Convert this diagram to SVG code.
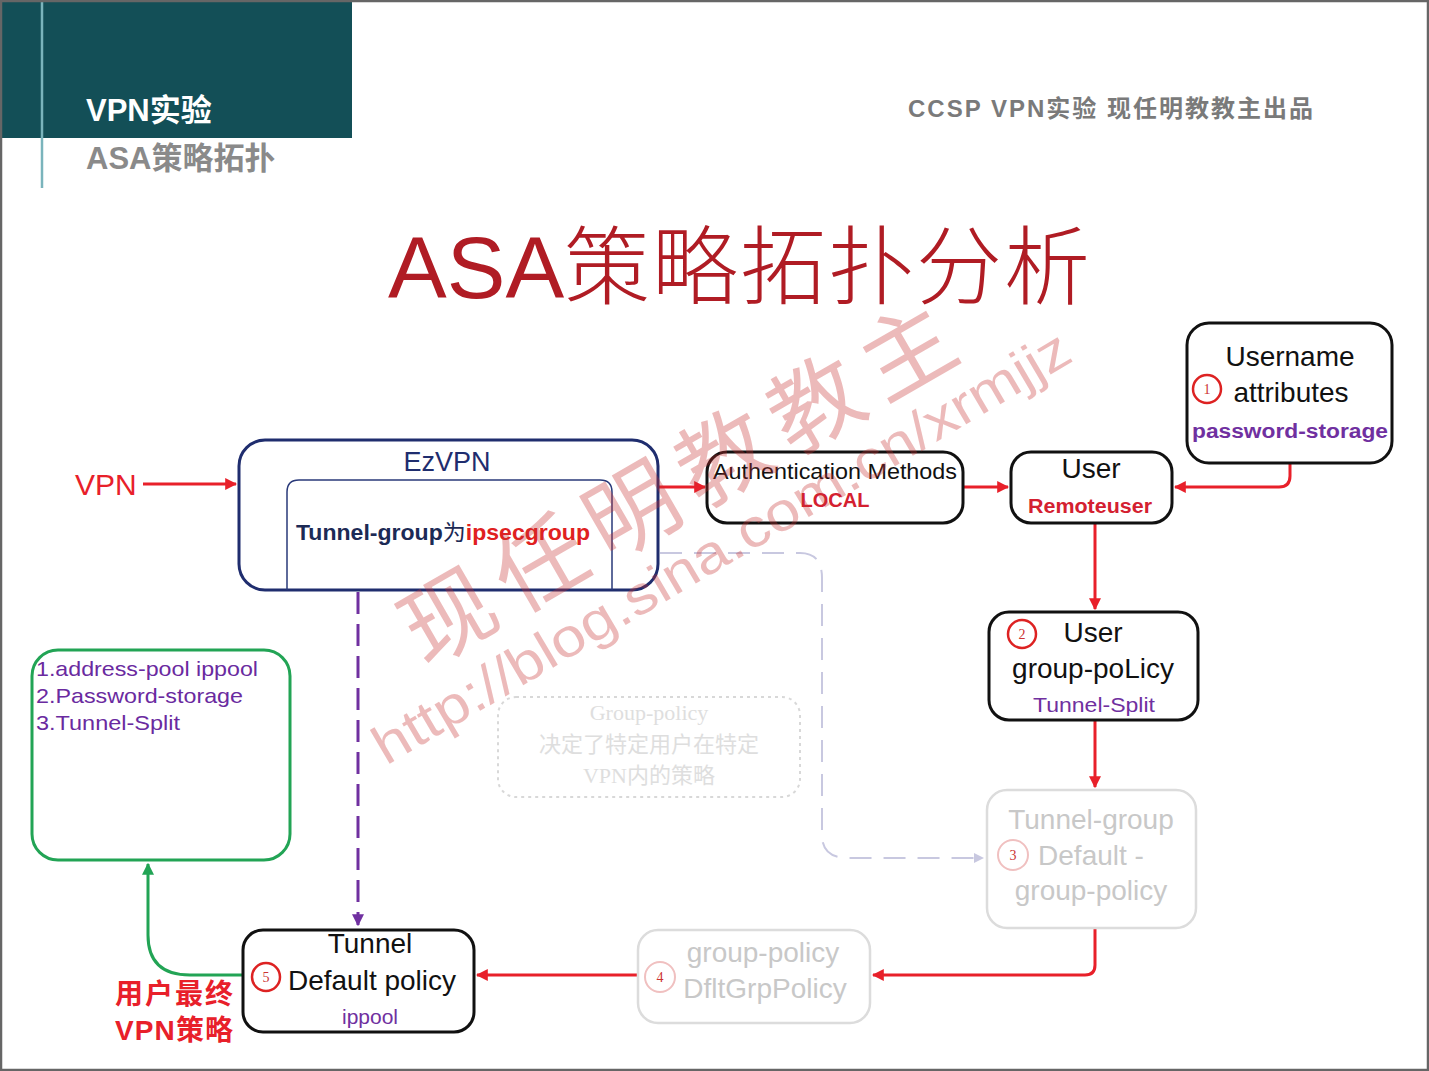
<svg xmlns="http://www.w3.org/2000/svg" width="1429" height="1071" viewBox="0 0 1429 1071">
<defs>
<style>
.sans{font-family:"Liberation Sans","Noto Sans CJK SC",Arial,sans-serif}
.node{fill:#fff;stroke:#111;stroke-width:3}
.faint{fill:#fff;stroke:#dcdcdc;stroke-width:2.5}
.red{stroke:#e8202a;stroke-width:3;fill:none}
.lbl{font-size:28px;fill:#111;text-anchor:middle}
.sub{font-size:20px;text-anchor:middle;font-weight:bold}
.subn{font-size:21px;text-anchor:middle;font-weight:normal;fill:#7030a0}
.num{fill:#fff;stroke:#d22;stroke-width:2.5}
.numf{fill:#fff;stroke:#f0c0c0;stroke-width:2}
.numt{font-size:14px;fill:#c33;text-anchor:middle;font-family:"Liberation Serif",serif}
.gt{font-size:28px;fill:#c8c8c8;text-anchor:middle}
.wm{fill:#c83030;opacity:0.33}
</style>
<marker id="ar" viewBox="0 0 10 10" refX="9" refY="5" markerWidth="4" markerHeight="4" orient="auto"><path d="M0,0 L10,5 L0,10 z" fill="#e8202a"/></marker>
<marker id="ap" viewBox="0 0 10 10" refX="9" refY="5" markerWidth="4" markerHeight="4" orient="auto"><path d="M0,0 L10,5 L0,10 z" fill="#7030a0"/></marker>
<marker id="ag" viewBox="0 0 10 10" refX="9" refY="5" markerWidth="4" markerHeight="4" orient="auto"><path d="M0,0 L10,5 L0,10 z" fill="#22a455"/></marker>
<marker id="al" viewBox="0 0 10 10" refX="9" refY="5" markerWidth="5" markerHeight="5" orient="auto"><path d="M0,0 L10,5 L0,10 z" fill="#c8c8e0"/></marker>
</defs>
<rect x="0" y="0" width="1429" height="1071" fill="#fff"/>
<!-- header -->
<g id="header" class="sans">
<rect x="0" y="0" width="352" height="138" fill="#134f57"/>
<line x1="42" y1="0" x2="42" y2="188" stroke="#7ab4bc" stroke-width="2.5"/>
<text x="86" y="121" font-size="31" font-weight="bold" fill="#fff">VPN实验</text>
<text x="86" y="169" font-size="31" font-weight="bold" fill="#8a8a8a">ASA策略拓扑</text>
<text x="908" y="117" font-size="24" font-weight="bold" fill="#7a7a7a" textLength="405" lengthAdjust="spacing">CCSP VPN实验  现任明教教主出品</text>
<text x="388" y="298" font-size="88" fill="#b01c24">ASA<tspan font-weight="300" font-family="'Noto Sans CJK SC',sans-serif" font-size="86" letter-spacing="2">策略拓扑分析</tspan></text>
</g>
<!-- group-policy note -->
<g id="note">
<rect x="498" y="697" width="302" height="100" rx="18" fill="none" stroke="#d8d8d8" stroke-width="2" stroke-dasharray="3,4"/>
<g font-family="'Liberation Serif','Noto Sans CJK SC',serif" font-size="22" fill="#dedede" text-anchor="middle">
<text x="649" y="720">Group-policy</text>
<text x="649" y="752">决定了特定用户在特定</text>
<text x="649" y="783">VPN内的策略</text>
</g>
</g>
<!-- connectors -->
<g id="connectors">
<line class="red" x1="143" y1="484" x2="236" y2="484" marker-end="url(#ar)"/>
<line class="red" x1="659" y1="487" x2="705" y2="487" marker-end="url(#ar)"/>
<line class="red" x1="964" y1="487" x2="1008" y2="487" marker-end="url(#ar)"/>
<path class="red" d="M1290,464 V476 Q1290,487 1279,487 H1175" marker-end="url(#ar)"/>
<line class="red" x1="1095" y1="524" x2="1095" y2="609" marker-end="url(#ar)"/>
<line class="red" x1="1095" y1="721" x2="1095" y2="787" marker-end="url(#ar)"/>
<path class="red" d="M1095,929 V965 Q1095,975 1085,975 H873" marker-end="url(#ar)"/>
<line class="red" x1="637" y1="975" x2="477" y2="975" marker-end="url(#ar)"/>
<line x1="358" y1="592" x2="358" y2="925" stroke="#7030a0" stroke-width="3" stroke-dasharray="22,10" marker-end="url(#ap)"/>
<path d="M243,975 H190 Q148,975 148,935 V864" fill="none" stroke="#22a455" stroke-width="3" marker-end="url(#ag)"/>
<path d="M660,553 H800 Q822,553 822,578 V835 Q822,858 848,858 H983" fill="none" stroke="#c8c8e0" stroke-width="2" stroke-dasharray="22,12" marker-end="url(#al)"/>
</g>
<!-- VPN label -->
<g id="vpn" class="sans"><text x="75" y="495" font-size="30" fill="#e8202a">VPN</text></g>
<!-- EzVPN -->
<g id="ezvpn" class="sans">
<rect x="239" y="440" width="419" height="150" rx="26" fill="#fff" stroke="#1f2d6e" stroke-width="3"/>
<path d="M287,590 V492 Q287,480 299,480 H600 Q612,480 612,492 V590" fill="none" stroke="#2a3a7a" stroke-width="1.5"/>
<text x="447" y="471" font-size="27" fill="#1f2d6e" text-anchor="middle">EzVPN</text>
<text x="296" y="540" font-size="22" font-weight="bold" fill="#1c2a55" textLength="294" lengthAdjust="spacingAndGlyphs">Tunnel-group<tspan font-weight="normal">为</tspan><tspan fill="#e02020">ipsecgroup</tspan></text>
</g>
<!-- Auth -->
<g id="auth" class="sans">
<rect class="node" x="707" y="452" width="256" height="71" rx="20"/>
<text x="835" y="479" font-size="22" fill="#111" text-anchor="middle" textLength="244" lengthAdjust="spacingAndGlyphs">Authentication Methods</text>
<text x="835" y="507" class="sub" fill="#d42030">LOCAL</text>
</g>
<!-- User -->
<g id="user" class="sans">
<rect class="node" x="1011" y="452" width="161" height="71" rx="20"/>
<text x="1091" y="478" class="lbl">User</text>
<text x="1090" y="513" class="sub" fill="#d42030" textLength="124" lengthAdjust="spacingAndGlyphs">Remoteuser</text>
</g>
<!-- Username attributes -->
<g id="username" class="sans">
<rect class="node" x="1187" y="323" width="205" height="140" rx="22"/>
<text x="1290" y="366" class="lbl" font-size="27">Username</text>
<circle class="num" cx="1207" cy="389" r="14"/>
<text x="1207" y="394" class="numt">1</text>
<text x="1291" y="402" class="lbl" font-size="27">attributes</text>
<text x="1290" y="438" class="sub" fill="#7030a0" textLength="196" lengthAdjust="spacingAndGlyphs">password-storage</text>
</g>
<!-- User group-policy -->
<g id="usergp" class="sans">
<rect class="node" x="989" y="612" width="209" height="108" rx="20"/>
<circle class="num" cx="1022" cy="634" r="14"/>
<text x="1022" y="639" class="numt">2</text>
<text x="1093" y="642" class="lbl">User</text>
<text x="1093" y="678" class="lbl">group-poLicy</text>
<text x="1094" y="712" class="subn" textLength="122" lengthAdjust="spacingAndGlyphs">Tunnel-Split</text>
</g>
<!-- Tunnel-group default -->
<g id="tgdefault" class="sans">
<rect class="faint" x="987" y="790" width="209" height="138" rx="20"/>
<text x="1091" y="829" class="gt">Tunnel-group</text>
<circle class="numf" cx="1013" cy="855" r="15"/>
<text x="1013" y="860" class="numt" fill="#e8c0c0">3</text>
<text x="1091" y="865" class="gt">Default -</text>
<text x="1091" y="900" class="gt">group-policy</text>
</g>
<!-- DfltGrpPolicy -->
<g id="dflt" class="sans">
<rect class="faint" x="638" y="930" width="232" height="93" rx="20"/>
<text x="763" y="962" class="gt">group-policy</text>
<circle class="numf" cx="660" cy="977" r="15"/>
<text x="660" y="982" class="numt" fill="#e8c0c0">4</text>
<text x="765" y="998" class="gt">DfltGrpPolicy</text>
</g>
<!-- Tunnel Default policy -->
<g id="tunneldefault" class="sans">
<rect class="node" x="243" y="930" width="231" height="102" rx="20"/>
<text x="370" y="953" class="lbl">Tunnel</text>
<circle class="num" cx="266" cy="977" r="14"/>
<text x="266" y="982" class="numt">5</text>
<text x="372" y="990" class="lbl">Default policy</text>
<text x="370" y="1024" class="subn">ippool</text>
</g>
<!-- green box -->
<g id="attrs" class="sans">
<rect x="32" y="650" width="258" height="210" rx="26" fill="none" stroke="#22a455" stroke-width="3"/>
<g font-size="21" fill="#6a2aa0">
<text x="36" y="676" textLength="222" lengthAdjust="spacingAndGlyphs">1.address-pool ippool</text>
<text x="36" y="703" textLength="207" lengthAdjust="spacingAndGlyphs">2.Password-storage</text>
<text x="36" y="730" textLength="144" lengthAdjust="spacingAndGlyphs">3.Tunnel-Split</text>
</g>
</g>
<!-- final label -->
<g id="final" class="sans" font-size="28" font-weight="bold" fill="#e8202a">
<text x="115" y="1004" textLength="118">用户最终</text>
<text x="115" y="1040" textLength="118">VPN策略</text>
</g>
<!-- watermark -->
<g id="watermark" class="sans">
<text class="wm" transform="translate(425,668) rotate(-30)" font-size="92" font-family="'Noto Sans CJK SC',sans-serif" letter-spacing="14">现任明教教主</text>
<text class="wm" transform="translate(386,766) rotate(-30.5)" font-size="54" textLength="800" lengthAdjust="spacingAndGlyphs">http://blog.sina.com.cn/xrmjjz</text>
</g>
<!-- frame -->
<rect x="1" y="1" width="1427" height="1069" fill="none" stroke="#666" stroke-width="2.5"/>
</svg>
